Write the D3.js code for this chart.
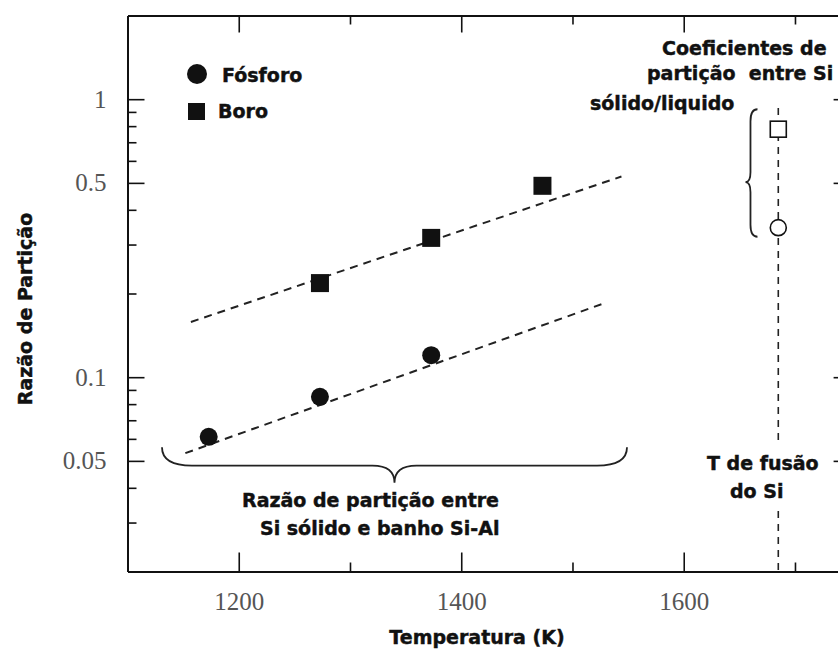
<!DOCTYPE html>
<html>
<head>
<meta charset="utf-8">
<script src="https://cdn.jsdelivr.net/npm/d3@7"></script>
<style>
  body { margin: 0; background: #fff; }
  svg { display: block; background: #fff; }
  .tick-label { font-family: "Liberation Serif", serif; font-size: 25px; fill: #555; }
  .note { font-family: "DejaVu Sans", sans-serif; font-weight: bold; font-size: 19px; fill: #111; stroke: #111; stroke-width: 0.45; white-space: pre; }
  .axis .domain { stroke: #111; stroke-width: 2; }
  .axis .tick line { stroke: #111; stroke-width: 1.6; }
  .fit { fill: none; stroke: #222; stroke-width: 2; stroke-dasharray: 8,6; }
</style>
</head>
<body>
<svg width="838" height="649"></svg>
<script>
// Data
const fosforoT = [1173, 1273, 1373];
const fosforoK = [0.061, 0.085, 0.12];
const boroT = [1273, 1373, 1473];
const boroK = [0.218, 0.317, 0.488];

// dashed fits (end points)
const fosforoFitT = [1152, 1526];
const fosforoFitK = [0.0533, 0.183];
const boroFitT = [1157, 1544];
const boroFitK = [0.158, 0.527];

// solid/liquid coefficients at the melting point
const tFusao = 1685;
const kLiquidoFosforo = 0.345;
const kLiquidoBoro = 0.78;

// ticks
const xMajor = [1200, 1400, 1600];
const xMinor = [1300, 1500, 1700];
const yMajor = [0.05, 0.1, 0.5, 1];
const yMajorLabels = ["0.05", "0.1", "0.5", "1"];
const yMinor = [0.03, 0.04, 0.06, 0.07, 0.08, 0.09, 0.2, 0.3, 0.4, 0.6, 0.7, 0.8, 0.9];

const svg = d3.select("svg");

const x = d3.scaleLinear().domain([1100, 1750]).range([127.5, 850.6]);
const y = d3.scaleLog().domain([0.02, 2]).range([571.5, 15.5]);

const x0 = x.range()[0], x1 = x.range()[1];
const yTop = y.range()[1], yBot = y.range()[0];

// Axes (ticks point inward)
const bottomAxis = svg.append("g").attr("class", "axis")
  .attr("transform", `translate(0, ${yBot})`)
  .call(d3.axisBottom(x).tickValues(xMajor).tickSize(-19).tickSizeOuter(0).tickPadding(21).tickFormat(d3.format("d")));
bottomAxis.append("g")
  .call(d3.axisBottom(x).tickValues(xMinor).tickSize(-9).tickFormat(""))
  .call(g => g.select(".domain").remove());

const topAxis = svg.append("g").attr("class", "axis")
  .attr("transform", `translate(0, ${yTop})`)
  .call(d3.axisTop(x).tickValues(xMajor).tickSize(-17).tickSizeOuter(0).tickFormat(""));
topAxis.append("g")
  .call(d3.axisTop(x).tickValues(xMinor).tickSize(-9).tickFormat(""))
  .call(g => g.select(".domain").remove());

const leftAxis = svg.append("g").attr("class", "axis")
  .attr("transform", `translate(${x0}, 0)`)
  .call(d3.axisLeft(y).tickValues(yMajor).tickSize(-17).tickSizeOuter(0).tickPadding(21)
    .tickFormat((d, i) => yMajorLabels[i]));
leftAxis.append("g")
  .call(d3.axisLeft(y).tickValues(yMinor).tickSize(-9).tickFormat(""))
  .call(g => g.select(".domain").remove());

const rightAxis = svg.append("g").attr("class", "axis")
  .attr("transform", `translate(${x1}, 0)`)
  .call(d3.axisRight(y).tickValues(yMajor).tickSize(-17).tickSizeOuter(0).tickFormat(""));

svg.selectAll(".axis").attr("font-family", null).attr("font-size", null);
svg.selectAll(".axis text").attr("class", "tick-label").attr("fill", null);
bottomAxis.selectAll("text").attr("dy", "0.71em");

// Axis titles
svg.append("text")
  .attr("class", "note")
  .attr("text-anchor", "middle")
  .attr("x", 477)
  .attr("y", 644)
  .text("Temperatura (K)");

svg.append("text")
  .attr("class", "note")
  .attr("text-anchor", "middle")
  .attr("transform", "translate(32, 309)rotate(-90)")
  .text("Razão de Partição");

// Fit lines
const line = d3.line().x(d => x(d[0])).y(d => y(d[1]));
svg.append("path").attr("class", "fit")
  .datum(boroFitT.map((t, i) => [t, boroFitK[i]]))
  .attr("d", line);
svg.append("path").attr("class", "fit")
  .datum(fosforoFitT.map((t, i) => [t, fosforoFitK[i]]))
  .attr("d", line);

// Data points
svg.selectAll(".fosforo")
  .data(fosforoT.map((t, i) => [t, fosforoK[i]]))
  .join("circle")
  .attr("class", "fosforo")
  .attr("cx", d => x(d[0]))
  .attr("cy", d => y(d[1]))
  .attr("r", 9)
  .attr("fill", "#111");

const sq = 18;
svg.selectAll(".boro")
  .data(boroT.map((t, i) => [t, boroK[i]]))
  .join("rect")
  .attr("class", "boro")
  .attr("x", d => x(d[0]) - sq / 2)
  .attr("y", d => y(d[1]) - sq / 2)
  .attr("width", sq)
  .attr("height", sq)
  .attr("fill", "#111");

// Legend
svg.append("circle").attr("cx", 197).attr("cy", 74).attr("r", 10).attr("fill", "#111");
svg.append("text").attr("class", "note").attr("x", 222).attr("y", 82).text("Fósforo");
svg.append("rect").attr("x", 188).attr("y", 103).attr("width", 17).attr("height", 17).attr("fill", "#111");
svg.append("text").attr("class", "note").attr("x", 218).attr("y", 118).text("Boro");

// Melting temperature line
const xf = x(tFusao);
svg.append("line")
  .attr("x1", xf).attr("x2", xf)
  .attr("y1", y(0.93)).attr("y2", yBot)
  .attr("stroke", "#222").attr("stroke-width", 1.6)
  .attr("stroke-dasharray", "7,6");

svg.append("rect")
  .attr("x", 700).attr("y", 440).attr("width", 125).attr("height", 68)
  .attr("fill", "#fff");
svg.append("text").attr("class", "note").attr("x", 707).attr("y", 470).text("T de fusão");
svg.append("text").attr("class", "note").attr("x", 730).attr("y", 498).text("do Si");

svg.append("rect")
  .attr("x", xf - 8).attr("y", y(kLiquidoBoro) - 8)
  .attr("width", 16).attr("height", 16)
  .attr("fill", "#fff").attr("stroke", "#111").attr("stroke-width", 1.6);
svg.append("circle")
  .attr("cx", xf).attr("cy", y(kLiquidoFosforo))
  .attr("r", 8)
  .attr("fill", "#fff").attr("stroke", "#111").attr("stroke-width", 1.6);

// Brace next to the solid/liquid coefficients (opens right)
const bx = x(1660), bTop = y(0.92), bBot = y(0.32), bMid = y(0.503);
svg.append("path")
  .attr("fill", "none").attr("stroke", "#222").attr("stroke-width", 1.8)
  .attr("d", `M${bx + 7},${bTop} Q${bx},${bTop} ${bx},${bTop + 12}
    L${bx},${bMid - 10} Q${bx},${bMid} ${bx - 5},${bMid}
    Q${bx},${bMid} ${bx},${bMid + 10}
    L${bx},${bBot - 12} Q${bx},${bBot} ${bx + 7},${bBot}`);

svg.append("text").attr("class", "note").attr("x", 662).attr("y", 55).text("Coeficientes de");
svg.append("text").attr("class", "note").attr("x", 647).attr("y", 80).text("partição  entre Si");
svg.append("text").attr("class", "note").attr("x", 590).attr("y", 110).text("sólido/liquido");

// Brace under the Si-Al points (opens up)
const cx0 = x(1131), cx1 = x(1549), cMid = x(1340);
const cEnd = y(0.056), cLine = y(0.0481), cTip = y(0.0417);
svg.append("path")
  .attr("fill", "none").attr("stroke", "#222").attr("stroke-width", 1.8)
  .attr("d", `M${cx0},${cEnd} Q${cx0},${cLine} ${cx0 + 30},${cLine}
    L${cMid - 22},${cLine} Q${cMid},${cLine} ${cMid},${cTip}
    Q${cMid},${cLine} ${cMid + 22},${cLine}
    L${cx1 - 30},${cLine} Q${cx1},${cLine} ${cx1},${cEnd}`);

svg.append("text").attr("class", "note").attr("x", 242).attr("y", 507).text("Razão de partição entre");
svg.append("text").attr("class", "note").attr("x", 260).attr("y", 535).text("Si sólido e banho Si-Al");
</script>
</body>
</html>
